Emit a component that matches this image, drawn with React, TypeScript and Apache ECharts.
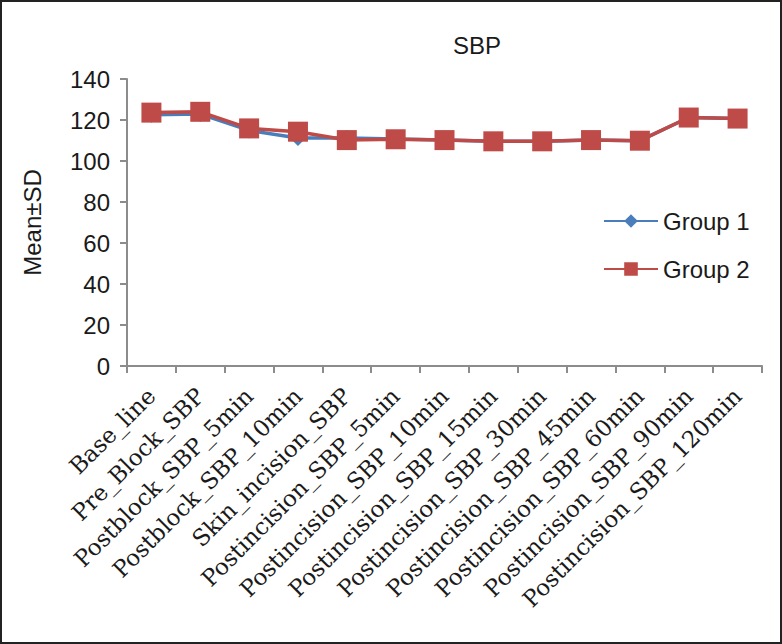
import React, { useEffect, useRef } from "react";
import * as echarts from "echarts";

const categories = [
  "Base_line",
  "Pre_Block_SBP",
  "Postblock_SBP_5min",
  "Postblock_SBP_10min",
  "Skin_incision_SBP",
  "Postincision_SBP_5min",
  "Postincision_SBP_10min",
  "Postincision_SBP_15min",
  "Postincision_SBP_30min",
  "Postincision_SBP_45min",
  "Postincision_SBP_60min",
  "Postincision_SBP_90min",
  "Postincision_SBP_120min",
];
const group1 = [122.6, 122.9, 114.9, 111.2, 111.2, 110.7, 110.2, 109.6, 109.6, 110.2, 109.9, 121.2, 120.7];
const group2 = [123.6, 124.0, 115.9, 114.3, 110.2, 110.6, 110.2, 109.6, 109.6, 110.2, 109.9, 121.2, 120.7];
const yTicks = { min: 0, max: 140, interval: 20 };

export default function App() {
  const ref = useRef<HTMLDivElement>(null);
  useEffect(() => {
    if (!ref.current) return;
    const chart = echarts.init(ref.current, null, { renderer: "svg" });
    const axisColor = "#8c8c8c";
    const textColor = "#1a1a1a";
    chart.setOption({
      animation: false,
      backgroundColor: "#ffffff",
      title: {
        text: "SBP",
        left: 472,
        top: 28,
        textAlign: "center",
        textStyle: { fontFamily: "Liberation Sans", fontSize: 24, fontWeight: "normal", color: textColor },
      },
      graphic: [
        {
          type: "rect",
          shape: { x: 1, y: 1, width: 780, height: 642 },
          style: { fill: "none", stroke: "#222", lineWidth: 2 },
        },
      ],
      legend: {
        orient: "vertical",
        left: 598,
        top: 204,
        itemWidth: 54,
        itemHeight: 17,
        itemGap: 24,
        textStyle: { fontFamily: "Liberation Sans", fontSize: 24, lineHeight: 24, color: textColor },
        data: ["Group 1", "Group 2"],
      },
      grid: { left: 127, top: 79, right: 20, bottom: 278, containLabel: false },
      xAxis: {
        type: "category",
        data: categories,
        boundaryGap: true,
        axisLine: { lineStyle: { color: axisColor, width: 2 } },
        axisTick: { show: true, alignWithLabel: false, length: 7, lineStyle: { color: axisColor, width: 2 } },
        axisLabel: {
          interval: 0,
          rotate: 45,
          margin: 26,
          fontFamily: "DejaVu Serif",
          fontSize: 23,
          color: textColor,
        },
      },
      yAxis: {
        type: "value",
        min: yTicks.min,
        max: yTicks.max,
        interval: yTicks.interval,
        name: "Mean±SD",
        nameLocation: "middle",
        nameGap: 83,
        nameRotate: 90,
        nameTextStyle: { fontFamily: "Liberation Sans", fontSize: 24, color: textColor },
        splitLine: { show: false },
        axisLine: { show: true, lineStyle: { color: axisColor, width: 2 } },
        axisTick: { show: true, length: 7, lineStyle: { color: axisColor, width: 2 } },
        axisLabel: { fontFamily: "Liberation Sans", fontSize: 24, color: textColor, margin: 17 },
      },
      series: [
        {
          name: "Group 1",
          type: "line",
          data: group1,
          symbol: "diamond",
          symbolSize: 16,
          lineStyle: { color: "#4A7EBB", width: 3.5 },
          itemStyle: { color: "#4A7EBB" },
          z: 2,
        },
        {
          name: "Group 2",
          type: "line",
          data: group2,
          symbol: "rect",
          symbolSize: 20,
          lineStyle: { color: "#BE4B48", width: 3.5 },
          itemStyle: { color: "#BE4B48" },
          z: 3,
        },
      ],
    });
    return () => chart.dispose();
  }, []);
  return (
    <div
      ref={ref}
      style={{ position: "fixed", left: 0, top: 0, width: 782, height: 644 }}
    />
  );
}
